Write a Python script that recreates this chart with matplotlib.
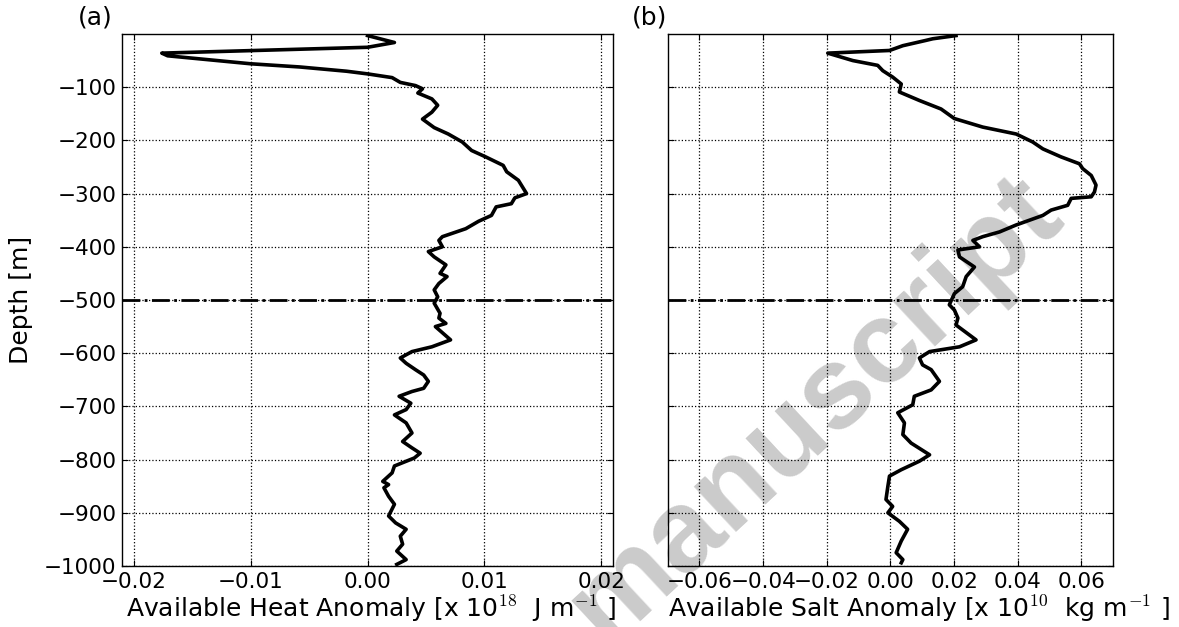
import numpy as np
import matplotlib
matplotlib.use('Agg')
import matplotlib.pyplot as plt
from matplotlib.ticker import FuncFormatter

# depth [m] and available heat anomaly [x 1e18 J/m]
heat_depth = [-3, -16, -25, -36, -41, -56, -62, -70, -75, -82, -91, -97, -103, -111, -122,
              -134, -147, -160, -176, -188, -203, -219, -231, -247, -259, -275, -300, -308,
              -319, -325, -341, -352, -366, -375, -381, -388, -400, -409, -419, -434, -450,
              -456, -469, -481, -494, -506, -525, -534, -544, -550, -575, -588, -597, -609,
              -619, -631, -641, -653, -666, -672, -681, -694, -706, -716, -731, -750, -766,
              -778, -788, -797, -812, -825, -841, -847, -853, -869, -884, -906, -919, -931,
              -944, -959, -972, -988, -997]
heat = [0.0000, 0.0023, 0.0000, -0.0176, -0.0171, -0.0100, -0.0058, -0.0018, 0.0000, 0.0021,
        0.0028, 0.0041, 0.0047, 0.0043, 0.0055, 0.0060, 0.0055, 0.0047, 0.0057, 0.0069,
        0.0081, 0.0089, 0.0101, 0.0116, 0.0119, 0.0129, 0.0136, 0.0126, 0.0123, 0.0110,
        0.0106, 0.0095, 0.0084, 0.0072, 0.0064, 0.0061, 0.0064, 0.0052, 0.0057, 0.0067,
        0.0062, 0.0068, 0.0061, 0.0057, 0.0060, 0.0057, 0.0062, 0.0061, 0.0067, 0.0058,
        0.0071, 0.0055, 0.0038, 0.0028, 0.0033, 0.0041, 0.0048, 0.0052, 0.0048, 0.0038,
        0.0027, 0.0037, 0.0033, 0.0023, 0.0033, 0.0038, 0.0030, 0.0038, 0.0045, 0.0040,
        0.0023, 0.0021, 0.0013, 0.0018, 0.0014, 0.0018, 0.0023, 0.0018, 0.0024, 0.0033,
        0.0028, 0.0030, 0.0025, 0.0033, 0.0025]

# depth [m] and available salt anomaly [x 1e10 kg/m]
salt_depth = [-3, -9, -12, -22, -31, -36, -50, -59, -69, -81, -94, -109, -125, -141, -159,
              -175, -188, -203, -216, -231, -244, -253, -266, -284, -297, -306, -309, -322,
              -331, -341, -359, -372, -381, -388, -400, -406, -419, -438, -456, -475, -488,
              -509, -519, -534, -547, -575, -588, -597, -609, -622, -631, -653, -669, -681,
              -697, -712, -731, -753, -769, -791, -803, -819, -831, -850, -875, -888, -900,
              -916, -931, -953, -975, -988, -994]
salt = [0.0206, 0.0133, 0.0112, 0.0039, -0.0003, -0.0197, -0.0118, -0.0040, -0.0024, 0.0007,
        0.0034, 0.0028, 0.0091, 0.0159, 0.0201, 0.0290, 0.0395, 0.0447, 0.0479, 0.0536,
        0.0594, 0.0604, 0.0631, 0.0646, 0.0641, 0.0631, 0.0568, 0.0557, 0.0505, 0.0479,
        0.0395, 0.0343, 0.0290, 0.0259, 0.0280, 0.0212, 0.0217, 0.0264, 0.0238, 0.0227,
        0.0201, 0.0185, 0.0201, 0.0212, 0.0206, 0.0269, 0.0217, 0.0123, 0.0091, 0.0101,
        0.0128, 0.0154, 0.0128, 0.0075, 0.0070, 0.0023, 0.0044, 0.0039, 0.0065, 0.0123,
        0.0091, 0.0034, -0.0003, -0.0008, -0.0014, 0.0007, -0.0008, 0.0028, 0.0054, 0.0034,
        0.0018, 0.0039, 0.0034]

depth_ticks = [-100, -200, -300, -400, -500, -600, -700, -800, -900, -1000]
heat_ticks = [-0.02, -0.01, 0.00, 0.01, 0.02]
salt_ticks = [-0.06, -0.04, -0.02, 0.00, 0.02, 0.04, 0.06]
ref_depth = -500

plt.rcParams['mathtext.fontset'] = 'cm'
fs = 15.5
fs_lab = 18

fig = plt.figure(figsize=(11.79, 6.27), dpi=100)
ax1 = fig.add_axes([0.1035, 0.0973, 0.4165, 0.8485])
ax2 = fig.add_axes([0.5663, 0.0973, 0.3779, 0.8485])

# watermark, drawn behind the (transparent) axes
fig.text(0.691, 0.346, 'manuscript', rotation=43, ha='center', va='center',
         fontsize=84, fontweight='bold', family='Liberation Sans', color='#cbcbcb', zorder=-1)

def minus_fmt(fmt):
    return FuncFormatter(lambda v, pos: (fmt % v).replace('-', '\u2212'))

for ax, x, d, xt, xl in [(ax1, heat, heat_depth, heat_ticks, (-0.021, 0.021)),
                         (ax2, salt, salt_depth, salt_ticks, (-0.07, 0.07))]:
    ax.patch.set_alpha(0)
    ax.plot(x, d, color='k', lw=2.6)
    ax.axhline(ref_depth, color='k', ls='-.', lw=2)
    ax.set_xlim(xl)
    ax.set_ylim(-1000, 0)
    ax.set_xticks(xt)
    ax.set_yticks(depth_ticks)
    ax.xaxis.set_major_formatter(minus_fmt('%.2f'))
    ax.yaxis.set_major_formatter(minus_fmt('%d'))
    ax.grid(True, color='k', ls=':', lw=0.9)
    ax.tick_params(direction='in', top=True, right=True, length=4, labelsize=fs, pad=4)
    for s in ax.spines.values():
        s.set_linewidth(1.0)

ax2.tick_params(labelleft=False)

ax1.set_ylabel('Depth [m]', fontsize=fs_lab)
ax1.yaxis.set_label_coords(-0.181, 0.5)
ax1.set_xlabel(r'Available Heat Anomaly [x 10$^{18}$  J m$^{-1}$ ]', fontsize=fs_lab)
ax2.set_xlabel(r'Available Salt Anomaly [x 10$^{10}$  kg m$^{-1}$ ]', fontsize=fs_lab)
ax1.xaxis.set_label_coords(0.508, -0.052)
ax2.xaxis.set_label_coords(0.564, -0.052)
ax1.text(-0.09, 1.008, '(a)', transform=ax1.transAxes, fontsize=fs_lab, va='bottom')
ax2.text(-0.08, 1.008, '(b)', transform=ax2.transAxes, fontsize=fs_lab, va='bottom')

fig.savefig('out.png', dpi=100)
